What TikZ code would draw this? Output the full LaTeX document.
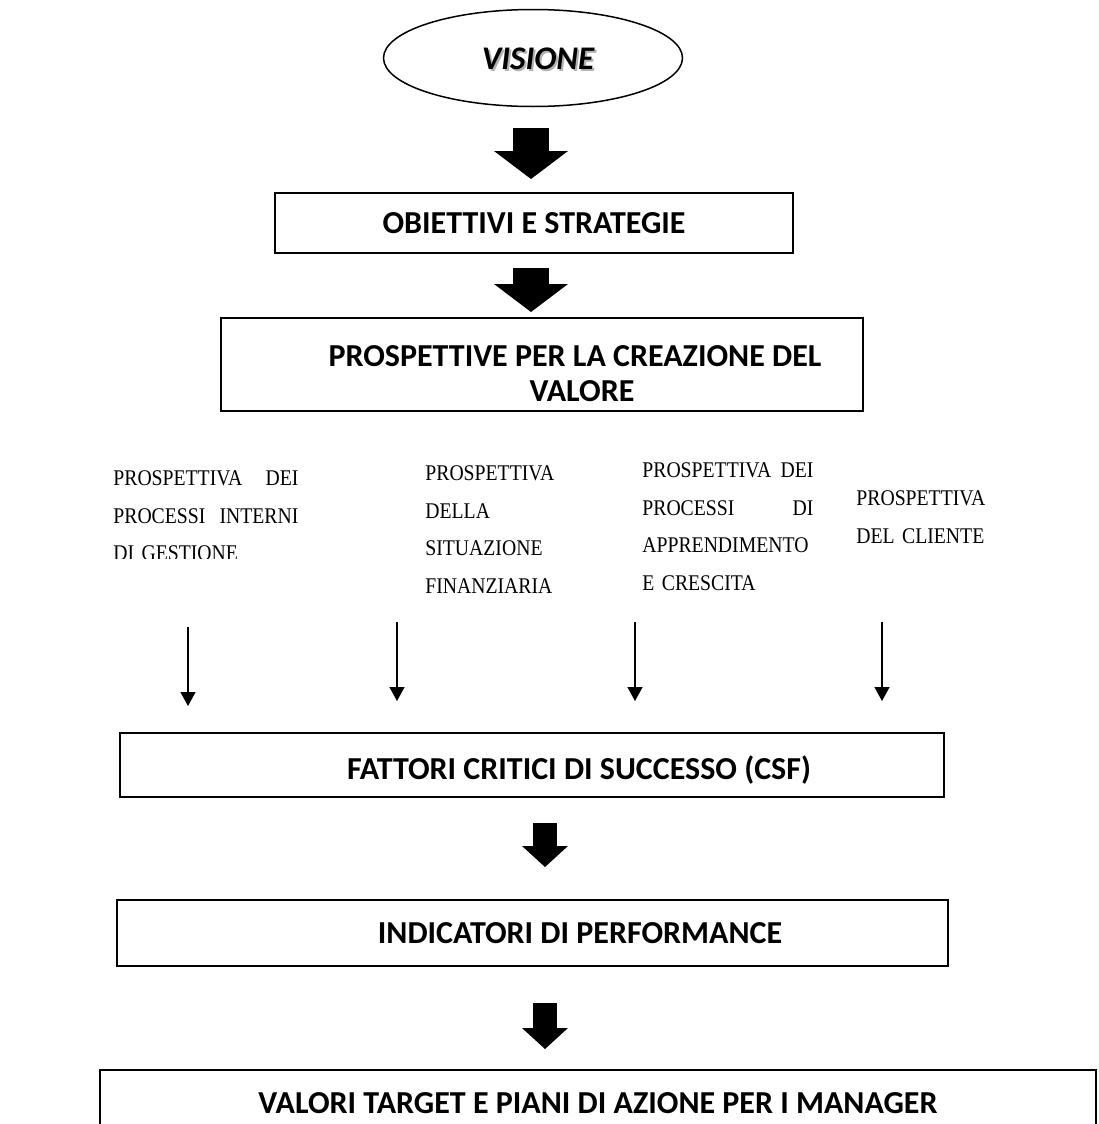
\documentclass[tikz,border=0pt]{standalone}
\usepackage{fontspec}
\setmainfont{Liberation Serif}
\newfontfamily\calibfont{Carlito}
\newfontfamily\colfont[FakeStretch=0.88]{Liberation Serif}
\usetikzlibrary{arrows.meta,shapes.geometric}
% one justified line of a column: width, left word, right word
\newcommand{\jl}[3]{\leavevmode\hbox to #1{#2\hfill #3}}

\begin{document}
\begin{tikzpicture}[x=0.5pt, y=-0.5pt,
    box/.style={draw, line width=1pt, inner sep=0pt},
    lbl/.style={font=\calibfont\bfseries\fontsize{16}{17.5}\selectfont, align=center, inner sep=0pt},
    col/.style={font=\colfont\fontsize{11.2}{18.75}\selectfont, align=left, inner sep=0pt, anchor=base west},
    bigarr/.style={line width=18pt, -{Triangle[length=14pt,width=37pt,line width=0pt]}},
    smallarr/.style={line width=12pt, -{Triangle[length=10.5pt,width=23pt,line width=0pt]}},
    thinarr/.style={line width=0.7pt, -{Triangle[length=7pt,width=7.5pt]}}]
    \clip (0,0) rectangle (1098,1124);
    \fill[white] (0,0) rectangle (1098,1124);

    % vision on top
    \node[lbl, gray!60, font=\calibfont\bfseries\itshape\fontsize{16.5}{17.5}\selectfont] (visshadow) at (540,61) {VISIONE};
    \node[ellipse, draw, line width=0.75pt, minimum width=149.5pt, minimum height=48.5pt, inner sep=0pt] (vis) at (533,58) {};
    \node[lbl, font=\calibfont\bfseries\itshape\fontsize{16.5}{17.5}\selectfont] (vistext) at (538,59) {VISIONE};

    % boxes
    \node[box, lbl, minimum width=259pt, minimum height=30pt] (obj) at (534,223) {OBIETTIVI E STRATEGIE};
    \node[box, minimum width=321pt, minimum height=46.5pt] (pros) at (542,364.5) {};
    \node[lbl] (prostext) at (575,373.5) {PROSPETTIVE PER LA CREAZIONE DEL\\ \hspace*{7pt}VALORE};
    \node[box, minimum width=412pt, minimum height=32pt] (fat) at (532,765) {};
    \node[lbl] (fattext) at (579,770) {FATTORI CRITICI DI SUCCESSO (CSF)};
    \node[box, minimum width=415.5pt, minimum height=33pt] (ind) at (532.5,933) {};
    \node[lbl] (indtext) at (580,933) {INDICATORI DI PERFORMANCE};
    \node[box, lbl, minimum width=498pt, minimum height=33pt] (val) at (598,1103) {VALORI TARGET E PIANI DI AZIONE PER I MANAGER};

    % the four perspectives
    \begin{scope}
        \clip (100,440) rectangle (320,558);
        \node[col, text width=92.5pt] (pers1) at (113,485.5) {\jl{92.5pt}{PROSPETTIVA}{DEI}\\ \jl{92.5pt}{PROCESSI}{INTERNI}\\ DI GESTIONE};
    \end{scope}
    \node[col, text width=70pt] (pers2) at (425,480.5) {PROSPETTIVA\\ DELLA\\ SITUAZIONE\\ FINANZIARIA};
    \node[col, text width=85.5pt] (pers3) at (642,477.5) {\jl{85.5pt}{PROSPETTIVA}{DEI}\\ \jl{85.5pt}{PROCESSI}{DI}\\ APPRENDIMENTO\\ E CRESCITA};
    \node[col, text width=70pt] (pers4) at (856,505.5) {PROSPETTIVA\\ DEL CLIENTE};

    % block arrows
    \draw[bigarr] ([xshift=-1pt,yshift=-10.5pt]vis.south) -- ([xshift=-1.5pt,yshift=6.5pt]obj.north);
    \draw[bigarr] ([xshift=-1.5pt,yshift=-7pt]obj.south) -- ([xshift=-5.5pt,yshift=2.5pt]pros.north);
    \draw[smallarr] ([xshift=6.5pt,yshift=-12.5pt]fat.south) -- ([xshift=6.25pt,yshift=16pt]ind.north);
    \draw[smallarr] ([xshift=6.25pt,yshift=-18pt]ind.south) -- ([xshift=-26.5pt,yshift=10pt]val.north);

    % thin arrows down to the CSF box
    \foreach \i/\x/\y/\g in {1/188/627/13pt, 2/397/622/15.5pt, 3/635/622/15.5pt, 4/882/622/15.5pt}{
        \coordinate (top\i) at (\x,\y);
        \draw[thinarr, shorten >=\g] (top\i) -- (top\i |- fat.north);
    }
\end{tikzpicture}
\end{document}
